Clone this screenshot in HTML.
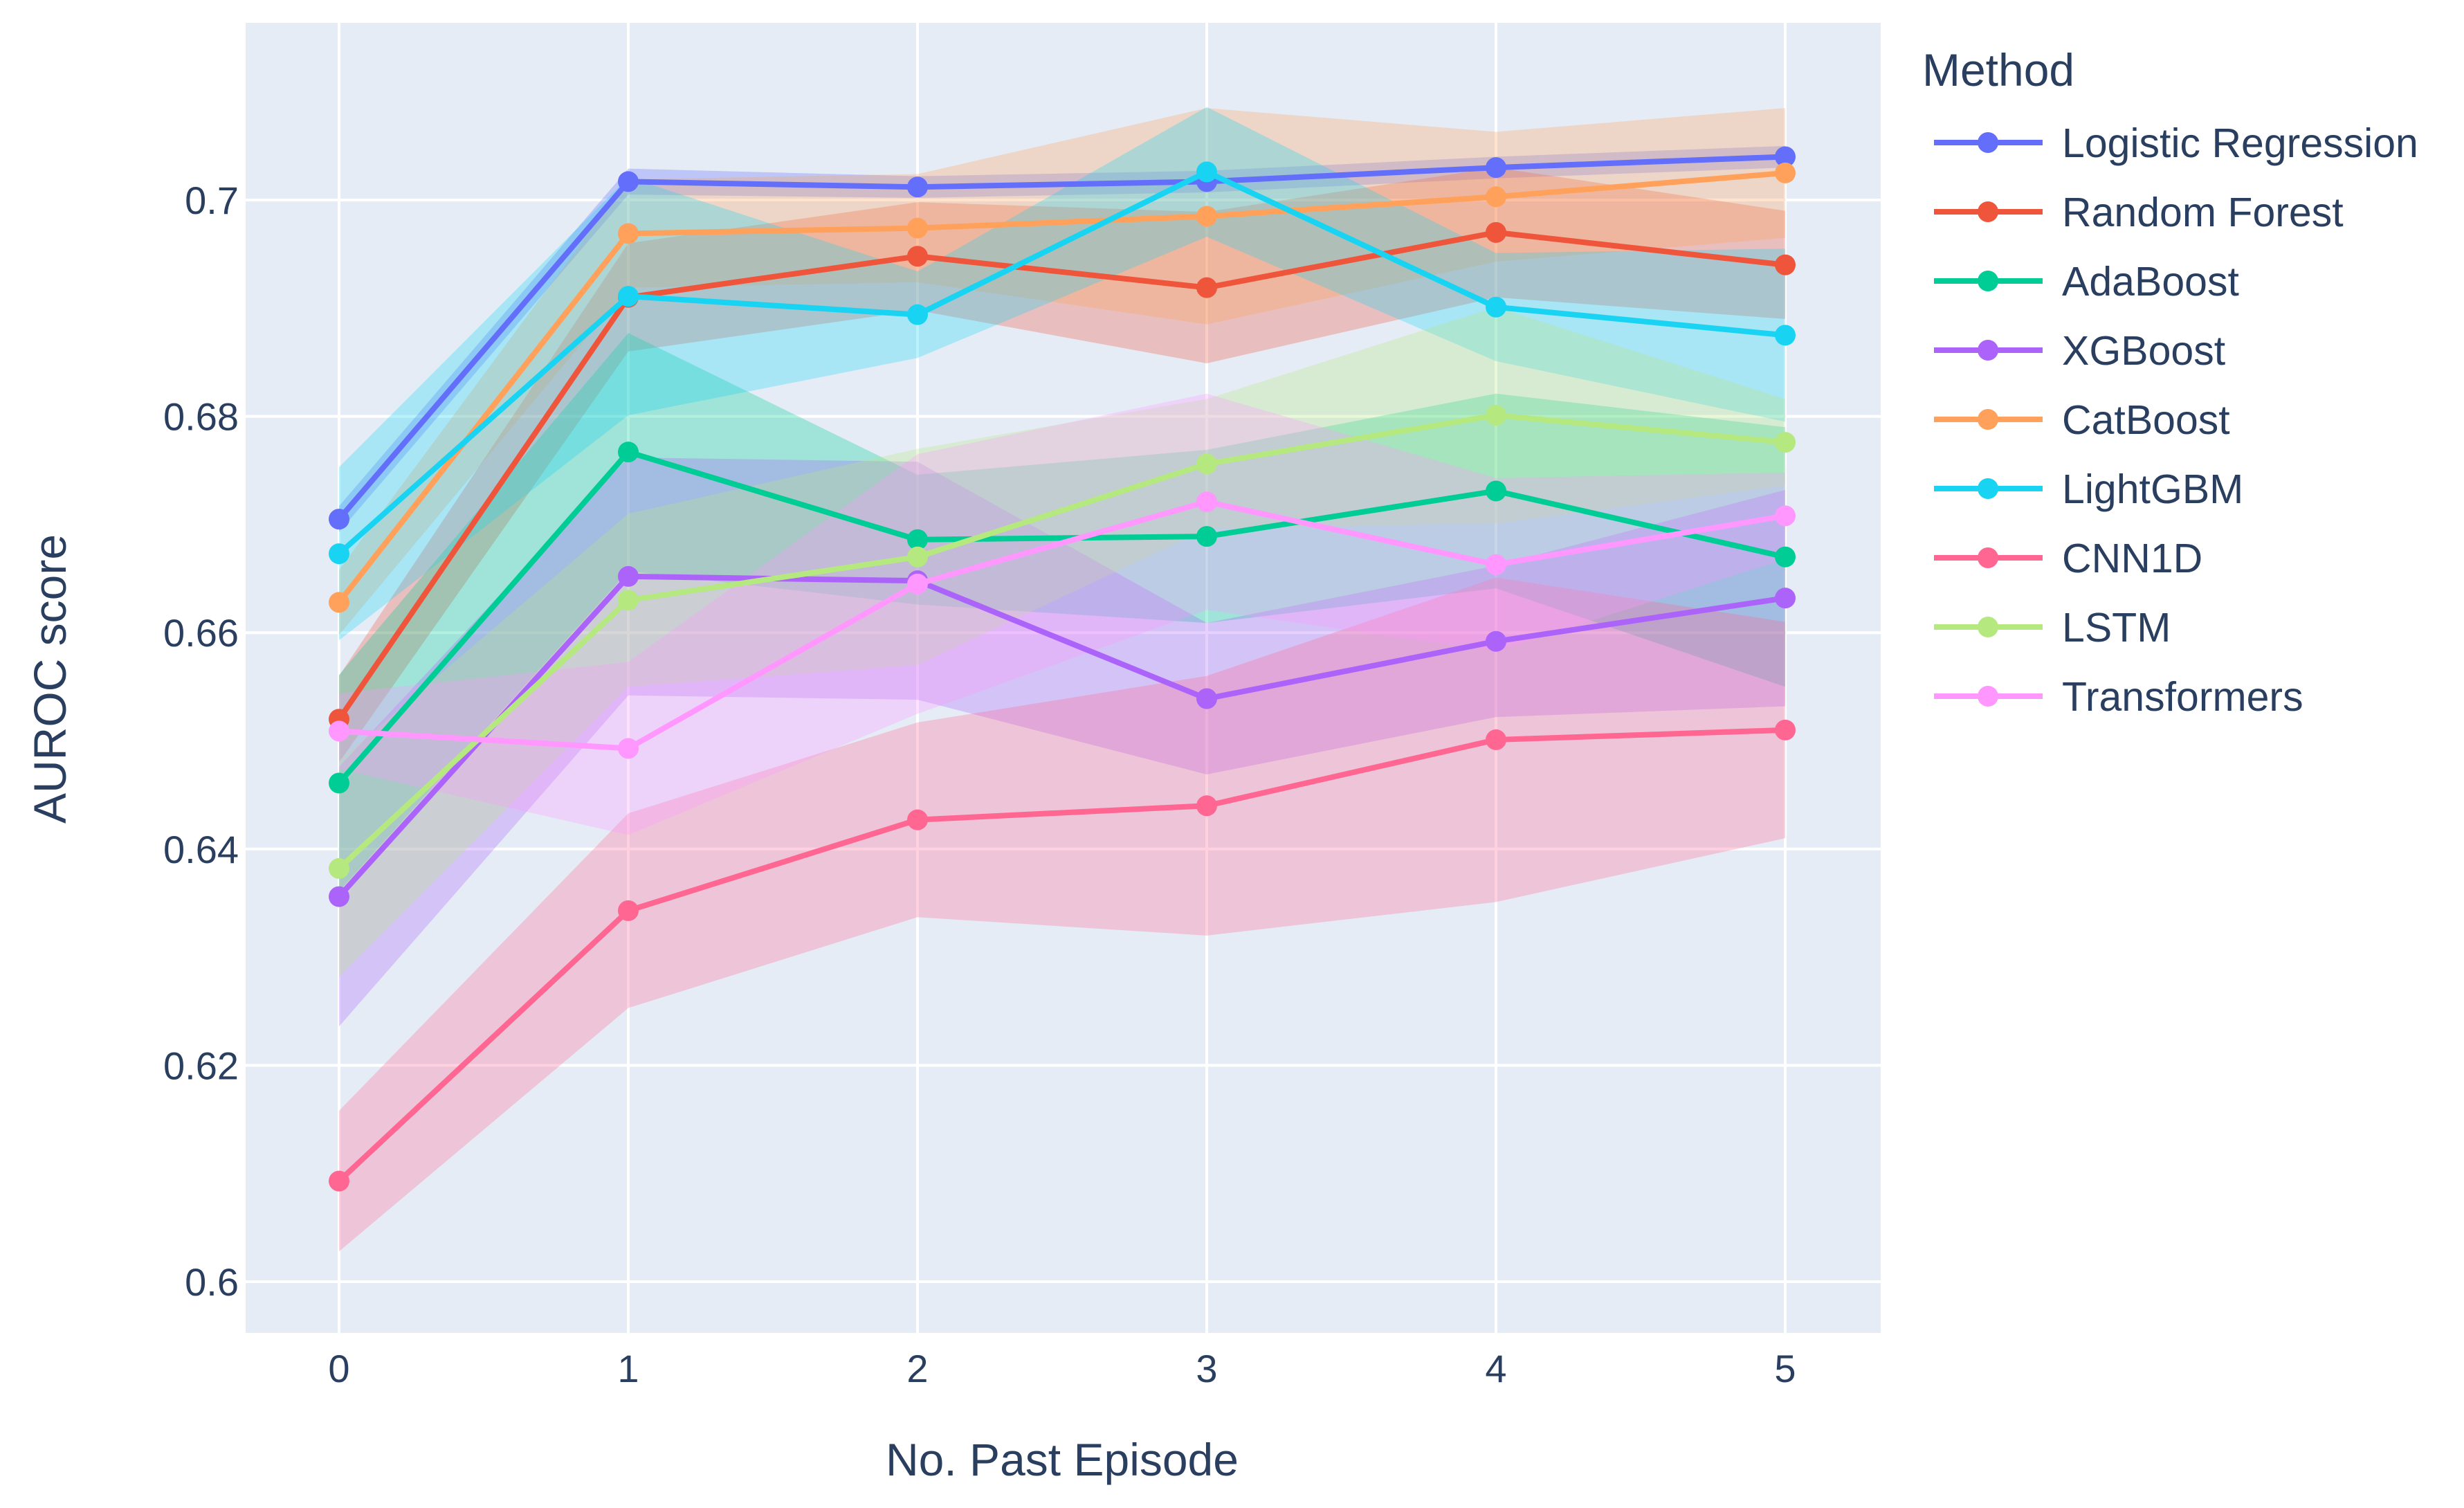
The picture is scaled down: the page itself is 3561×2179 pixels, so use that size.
<!DOCTYPE html>
<html><head><meta charset="utf-8"><style>
body{margin:0;background:#fff;}
svg{display:block;font-family:"Liberation Sans",sans-serif;}
</style></head><body>
<svg id="chart" width="3561" height="2179" viewBox="0 0 3561 2179">
<rect x="355" y="33" width="2363" height="1893" fill="#E5ECF6"/>
<g id="grid"></g><g id="bands"></g><g id="lines"></g><g id="axes"></g><g id="legend"></g>
<text x="1535" y="2132" font-size="66" fill="#2a3f5f" text-anchor="middle">No. Past Episode</text>
<text transform="translate(95,981) rotate(-90)" font-size="66" fill="#2a3f5f" text-anchor="middle">AUROC score</text>
</svg>
<script>
const episodes=[0,1,2,3,4,5];
const yTicks=[0.6,0.62,0.64,0.66,0.68,0.7];
const yTickLabels=["0.6","0.62","0.64","0.66","0.68","0.7"];
const names=["Logistic Regression","Random Forest","AdaBoost","XGBoost","CatBoost","LightGBM","CNN1D","LSTM","Transformers"];
const colors=["#636efa","#EF553B","#00cc96","#ab63fa","#FFA15A","#19d3f3","#FF6692","#B6E880","#FF97FF"];
const lrMean=[0.6705,0.7017,0.7012,0.7017,0.703,0.704];
const lrErr=[0.0012,0.0012,0.001,0.001,0.001,0.001];
const rfMean=[0.652,0.691,0.6948,0.6919,0.697,0.694];
const rfErr=[0.004,0.005,0.005,0.007,0.006,0.005];
const adaMean=[0.6461,0.6767,0.6686,0.6689,0.6731,0.667];
const adaErr=[0.01,0.011,0.006,0.008,0.009,0.012];
const xgbMean=[0.6356,0.6652,0.6648,0.6539,0.6592,0.6632];
const xgbErr=[0.012,0.011,0.011,0.007,0.007,0.01];
const catMean=[0.6628,0.6969,0.6974,0.6985,0.7003,0.7025];
const catErr=[0.003,0.005,0.005,0.01,0.006,0.006];
const lgbMean=[0.6673,0.6911,0.6894,0.7026,0.6901,0.6875];
const lgbErr=[0.008,0.011,0.004,0.006,0.005,0.008];
const cnnMean=[0.6093,0.6343,0.6427,0.644,0.6501,0.651];
const cnnErr=[0.0065,0.009,0.009,0.012,0.015,0.01];
const lstmMean=[0.6382,0.663,0.667,0.6756,0.6801,0.6776];
const lstmErr=[0.01,0.008,0.01,0.006,0.01,0.004];
const trMean=[0.6509,0.6493,0.6645,0.6721,0.6663,0.6708];
const trErr=[0.0035,0.008,0.012,0.01,0.008,0.004];
const means=[lrMean,rfMean,adaMean,xgbMean,catMean,lgbMean,cnnMean,lstmMean,trMean];
const errs=[lrErr,rfErr,adaErr,xgbErr,catErr,lgbErr,cnnErr,lstmErr,trErr];
const NS="http://www.w3.org/2000/svg";
const X=e=>490+e*418;
const Y=v=>289+(0.7-v)/0.1*1563;
function mk(t,a,p){const el=document.createElementNS(NS,t);for(const k in a)el.setAttribute(k,a[k]);p.appendChild(el);return el;}
const grid=document.getElementById('grid'),axes=document.getElementById('axes');
yTicks.forEach((v,i)=>{
 const l=mk('line',{x1:355,x2:2718,y1:Y(v),y2:Y(v),stroke:'#fff','stroke-width':4},grid);
 
 
 const t=mk('text',{x:345,y:Y(v)+20,'font-size':56,fill:'#2a3f5f','text-anchor':'end'},axes);
 t.textContent=yTickLabels[i];
 
 
});
episodes.forEach(e=>{
 const l=mk('line',{x1:X(e),x2:X(e),y1:33,y2:1926,stroke:'#fff','stroke-width':4},grid);
 
 
 const t=mk('text',{x:X(e),y:1997,'font-size':56,fill:'#2a3f5f','text-anchor':'middle'},axes);
 t.textContent=String(e);
 
 
});
const bands=document.getElementById('bands'),lines=document.getElementById('lines'),leg=document.getElementById('legend');
means.forEach((m,s)=>{
 const up=episodes.map((e,i)=>X(e)+','+Y(m[i]+errs[s][i]));
 const lo=episodes.map((e,i)=>X(e)+','+Y(m[i]-errs[s][i])).reverse();
 const b=mk('polygon',{points:up.concat(lo).join(' '),fill:colors[s],'fill-opacity':0.3},bands);
 
 
});
means.forEach((m,s)=>{
 const g=mk('g',{},lines);
 
 
 mk('polyline',{points:episodes.map((e,i)=>X(e)+','+Y(m[i])).join(' '),fill:'none',stroke:colors[s],'stroke-width':8,'stroke-linejoin':'round'},g);
 episodes.forEach((e,i)=>{
  const c=mk('circle',{cx:X(e),cy:Y(m[i]),r:15,fill:colors[s]},g);
  
  
 });
});
const tt=mk('text',{x:2778,y:124,'font-size':66,fill:'#2a3f5f'},leg);
tt.textContent='Method';


names.forEach((n,s)=>{
 const y=206+s*100;
 const g=mk('g',{},leg);
 
 
 mk('line',{x1:2795,x2:2952,y1:y,y2:y,stroke:colors[s],'stroke-width':8},g);
 mk('circle',{cx:2873,cy:y,r:15,fill:colors[s]},g);
 const t=mk('text',{x:2980,y:y+21,'font-size':59,fill:'#2a3f5f'},g);
 t.textContent=n;
});
</script>
</body></html>
